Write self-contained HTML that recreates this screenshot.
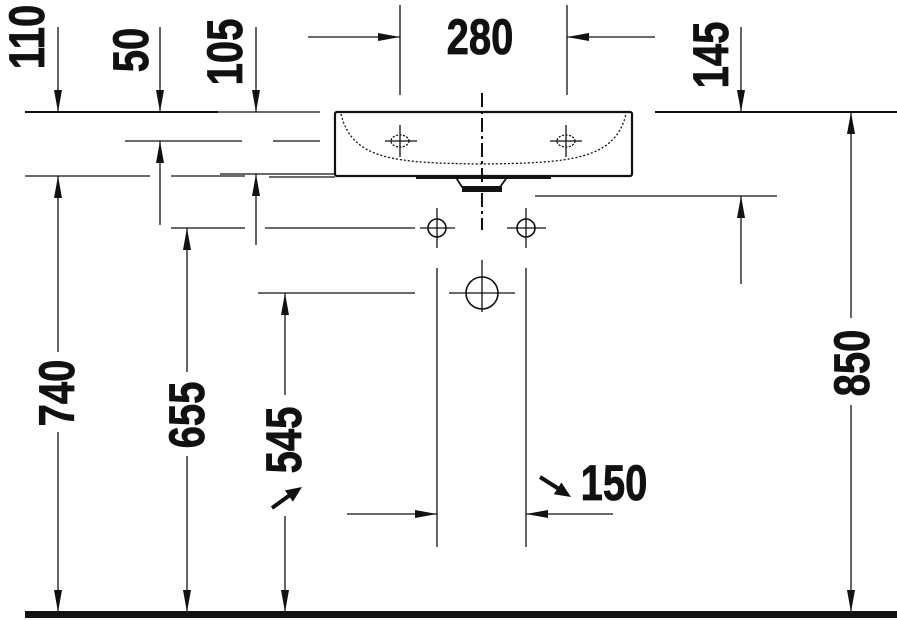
<!DOCTYPE html>
<html><head><meta charset="utf-8"><style>
html,body{margin:0;padding:0;background:#fff;width:897px;height:620px;overflow:hidden}
svg{display:block}
text{font-family:"Liberation Sans",Arial,sans-serif;font-weight:bold;font-size:50px;fill:#111;stroke:#111;stroke-width:0.8}
</style></head><body>
<svg width="897" height="620" viewBox="0 0 897 620" xmlns="http://www.w3.org/2000/svg">
<defs>
<marker id="a" viewBox="0 0 22 8" refX="22" refY="4" markerWidth="22" markerHeight="8" markerUnits="userSpaceOnUse" orient="auto"><path d="M0,0 L22,4 L0,8 Z" fill="#111"/></marker>
</defs>
<g stroke="#111" fill="none" stroke-width="1.3">
<line x1="25" y1="112" x2="218" y2="112" stroke-width="2"/>
<line x1="218" y1="112" x2="320" y2="112"/>
<line x1="655" y1="112" x2="897" y2="112" stroke-width="2"/>
<line x1="125" y1="141" x2="242" y2="141"/>
<line x1="273" y1="141" x2="320" y2="141"/>
<line x1="25" y1="176" x2="150" y2="176"/>
<line x1="171" y1="176" x2="245" y2="176"/>
<line x1="220" y1="174" x2="335" y2="174"/>
<line x1="269" y1="177" x2="335" y2="177"/>
<line x1="171" y1="228" x2="245" y2="228"/>
<line x1="265" y1="228" x2="415" y2="228"/>
<line x1="535" y1="196" x2="777" y2="196"/>
<line x1="258" y1="293" x2="415" y2="293"/>
<line x1="58" y1="27" x2="58" y2="112" marker-end="url(#a)"/>
<line x1="160" y1="27" x2="160" y2="112" marker-end="url(#a)"/>
<line x1="256" y1="27" x2="256" y2="112" marker-end="url(#a)"/>
<line x1="741" y1="27" x2="741" y2="112" marker-end="url(#a)"/>
<line x1="160" y1="225" x2="160" y2="141" marker-end="url(#a)"/>
<line x1="256" y1="245" x2="256" y2="174" marker-end="url(#a)"/>
<line x1="741" y1="284" x2="741" y2="196" marker-end="url(#a)"/>
<line x1="58" y1="352" x2="58" y2="176" marker-end="url(#a)"/>
<line x1="58" y1="432" x2="58" y2="612" marker-end="url(#a)"/>
<line x1="187" y1="372" x2="187" y2="228" marker-end="url(#a)"/>
<line x1="187" y1="456" x2="187" y2="612" marker-end="url(#a)"/>
<line x1="285" y1="395" x2="285" y2="293" marker-end="url(#a)"/>
<line x1="285" y1="516" x2="285" y2="612" marker-end="url(#a)"/>
<line x1="851" y1="318" x2="851" y2="112" marker-end="url(#a)"/>
<line x1="851" y1="405" x2="851" y2="612" marker-end="url(#a)"/>
<line x1="400" y1="5" x2="400" y2="95"/>
<line x1="567" y1="5" x2="567" y2="95"/>
<line x1="308" y1="37" x2="400" y2="37" marker-end="url(#a)"/>
<line x1="655" y1="37" x2="567" y2="37" marker-end="url(#a)"/>
<line x1="437" y1="268" x2="437" y2="547"/>
<line x1="526" y1="268" x2="526" y2="547"/>
<line x1="347" y1="514" x2="437" y2="514" marker-end="url(#a)"/>
<line x1="613" y1="514" x2="526" y2="514" marker-end="url(#a)"/>
<line x1="540" y1="477" x2="559" y2="489" stroke-width="4"/>
<line x1="272" y1="508" x2="290" y2="495" stroke-width="4"/>
<rect x="335" y="112" width="297" height="64" rx="2" stroke-width="2.2"/>
<path d="M341,114 C352,160 395,163 482,164 C570,163 615,160 626,114" stroke-dasharray="2,2"/>
<path d="M455,176 L462,187 L500,187 L508,176" stroke-width="1.8"/>
<rect x="462" y="186" width="40" height="6" fill="#111" stroke="none"/>
<rect x="416" y="176" width="135" height="3" fill="#111" stroke="none"/>
<line x1="482" y1="93" x2="482" y2="230" stroke-width="2" stroke-dasharray="14,4,3,4"/>
<ellipse cx="400" cy="141" rx="9" ry="6" stroke-dasharray="2,1.5"/>
<line x1="385" y1="141" x2="417" y2="141"/><line x1="400" y1="125" x2="400" y2="157"/>
<ellipse cx="566" cy="141" rx="9" ry="6" stroke-dasharray="2,1.5"/>
<line x1="550" y1="141" x2="582" y2="141"/><line x1="566" y1="125" x2="566" y2="157"/>
<circle cx="437" cy="228" r="9" stroke-width="1.6"/>
<line x1="420" y1="228" x2="455" y2="228"/><line x1="437" y1="208" x2="437" y2="248"/>
<circle cx="526" cy="228" r="9" stroke-width="1.6"/>
<line x1="507" y1="228" x2="546" y2="228"/><line x1="526" y1="208" x2="526" y2="248"/>
<circle cx="482" cy="293" r="16" stroke-width="1.6"/>
<line x1="449" y1="293" x2="515" y2="293"/><line x1="482" y1="260" x2="482" y2="312"/>
</g>
<polygon points="571,497 553.8,494.3 561.4,482.5" fill="#111"/>
<polygon points="302,487 292.9,501.8 284.9,490.4" fill="#111"/>
<rect x="25" y="611" width="872" height="7" fill="#111"/>
<g>
<text transform="translate(480,37) scale(0.8,1)" text-anchor="middle" dominant-baseline="central">280</text>
<text transform="translate(614,483) scale(0.8,1)" text-anchor="middle" dominant-baseline="central">150</text>
<text transform="translate(27,37) rotate(-90) scale(0.8,1)" text-anchor="middle" dominant-baseline="central">110</text>
<text transform="translate(131,50) rotate(-90) scale(0.8,1)" text-anchor="middle" dominant-baseline="central">50</text>
<text transform="translate(225,52) rotate(-90) scale(0.8,1)" text-anchor="middle" dominant-baseline="central">105</text>
<text transform="translate(711,55) rotate(-90) scale(0.8,1)" text-anchor="middle" dominant-baseline="central">145</text>
<text transform="translate(57,393) rotate(-90) scale(0.8,1)" text-anchor="middle" dominant-baseline="central">740</text>
<text transform="translate(187,415) rotate(-90) scale(0.8,1)" text-anchor="middle" dominant-baseline="central">655</text>
<text transform="translate(284,440) rotate(-90) scale(0.8,1)" text-anchor="middle" dominant-baseline="central">545</text>
<text transform="translate(852,363) rotate(-90) scale(0.8,1)" text-anchor="middle" dominant-baseline="central">850</text>
</g>
</svg>
</body></html>
